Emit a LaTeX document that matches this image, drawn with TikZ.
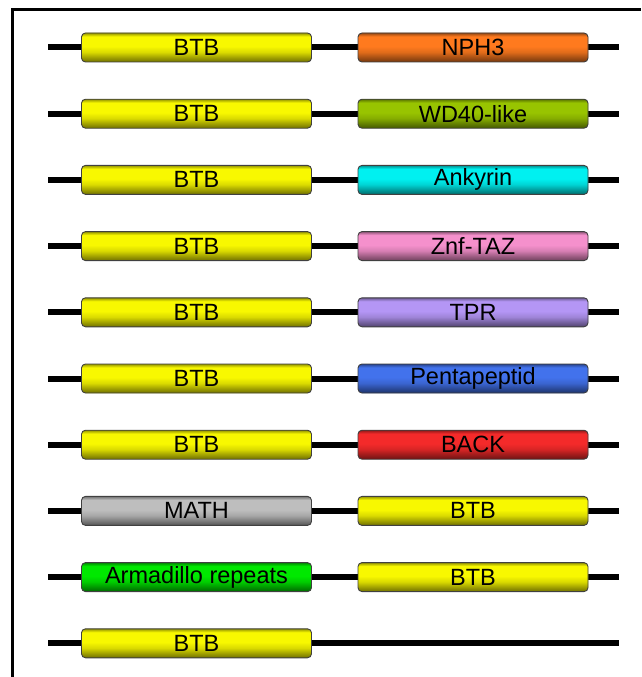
\documentclass[tikz,border=0pt]{standalone}
\usepackage{fontspec}
\setmainfont{Liberation Sans}
\definecolor{cBTB}{HTML}{F8F800}
\definecolor{cNPH}{HTML}{FF7A1E}
\definecolor{cWD}{HTML}{98C400}
\definecolor{cANK}{HTML}{00F0F0}
\definecolor{cZNF}{HTML}{F590CC}
\definecolor{cTPR}{HTML}{B496F5}
\definecolor{cPEN}{HTML}{4272EC}
\definecolor{cBACK}{HTML}{F42A2A}
\definecolor{cMATH}{HTML}{BEBEBE}
\definecolor{cARM}{HTML}{00E800}
% tube-like vertical shading: darker rim at top, bright upper half, darker bottom
\pgfdeclareverticalshading[tubebase]{tube}{100bp}{%
  color(0bp)=(tubebase!45!black);
  color(25bp)=(tubebase!45!black);
  color(33bp)=(tubebase!65!black);
  color(42bp)=(tubebase!88!black);
  color(52bp)=(tubebase);
  color(69bp)=(tubebase);
  color(75bp)=(tubebase!60!black);
  color(100bp)=(tubebase!60!black)}
\tikzset{
  backbone/.style={line width=6pt, black},
  domain/.style={draw=black!75, line width=0.9pt, rounded corners=4pt,
    minimum width=230pt, minimum height=29pt, inner sep=0pt,
    preaction={fill=#1}, shading=tube, postaction={},
    /utils/exec={\colorlet{tubebase}{#1}},
    font=\fontsize{23.5}{24}\selectfont, text=black},
  frameline/.style={line width=3.5pt, black}
}
\begin{document}
\begin{tikzpicture}[x=1pt,y=-1pt]
  \useasboundingbox (0,0) rectangle (641,677);
  \fill[white] (0,0) rectangle (641,677);
  % outer frame (left and top edges)
  \draw[frameline] (12.5,677) -- (12.5,9.5) -- (641,9.5);
  % one row per protein architecture
  \foreach \i/\ltxt/\lcol/\rtxt/\rcol in {
      0/BTB/cBTB/NPH3/cNPH,
      1/BTB/cBTB/WD40-like/cWD,
      2/BTB/cBTB/Ankyrin/cANK,
      3/BTB/cBTB/Znf-TAZ/cZNF,
      4/BTB/cBTB/TPR/cTPR,
      5/BTB/cBTB/Pentapeptid/cPEN,
      6/BTB/cBTB/BACK/cBACK,
      7/MATH/cMATH/BTB/cBTB,
      8/Armadillo repeats/cARM/BTB/cBTB} {
    \pgfmathsetmacro{\yy}{47.5+66.2*\i}
    \coordinate (s\i) at (48,\yy);
    \coordinate (e\i) at (619,\yy);
    \draw[backbone] (s\i) -- (e\i);
    \node[domain=\lcol] (l\i) at (196.5,\yy) {\ltxt};
    \node[domain=\rcol] (r\i) at (473,\yy) {\rtxt};
  }
  % last row: a single BTB domain
  \coordinate (s9) at (48,643.3);
  \coordinate (e9) at (619,643.3);
  \draw[backbone] (s9) -- (e9);
  \node[domain=cBTB] (l9) at (196.5,643.3) {BTB};
\end{tikzpicture}
\end{document}
